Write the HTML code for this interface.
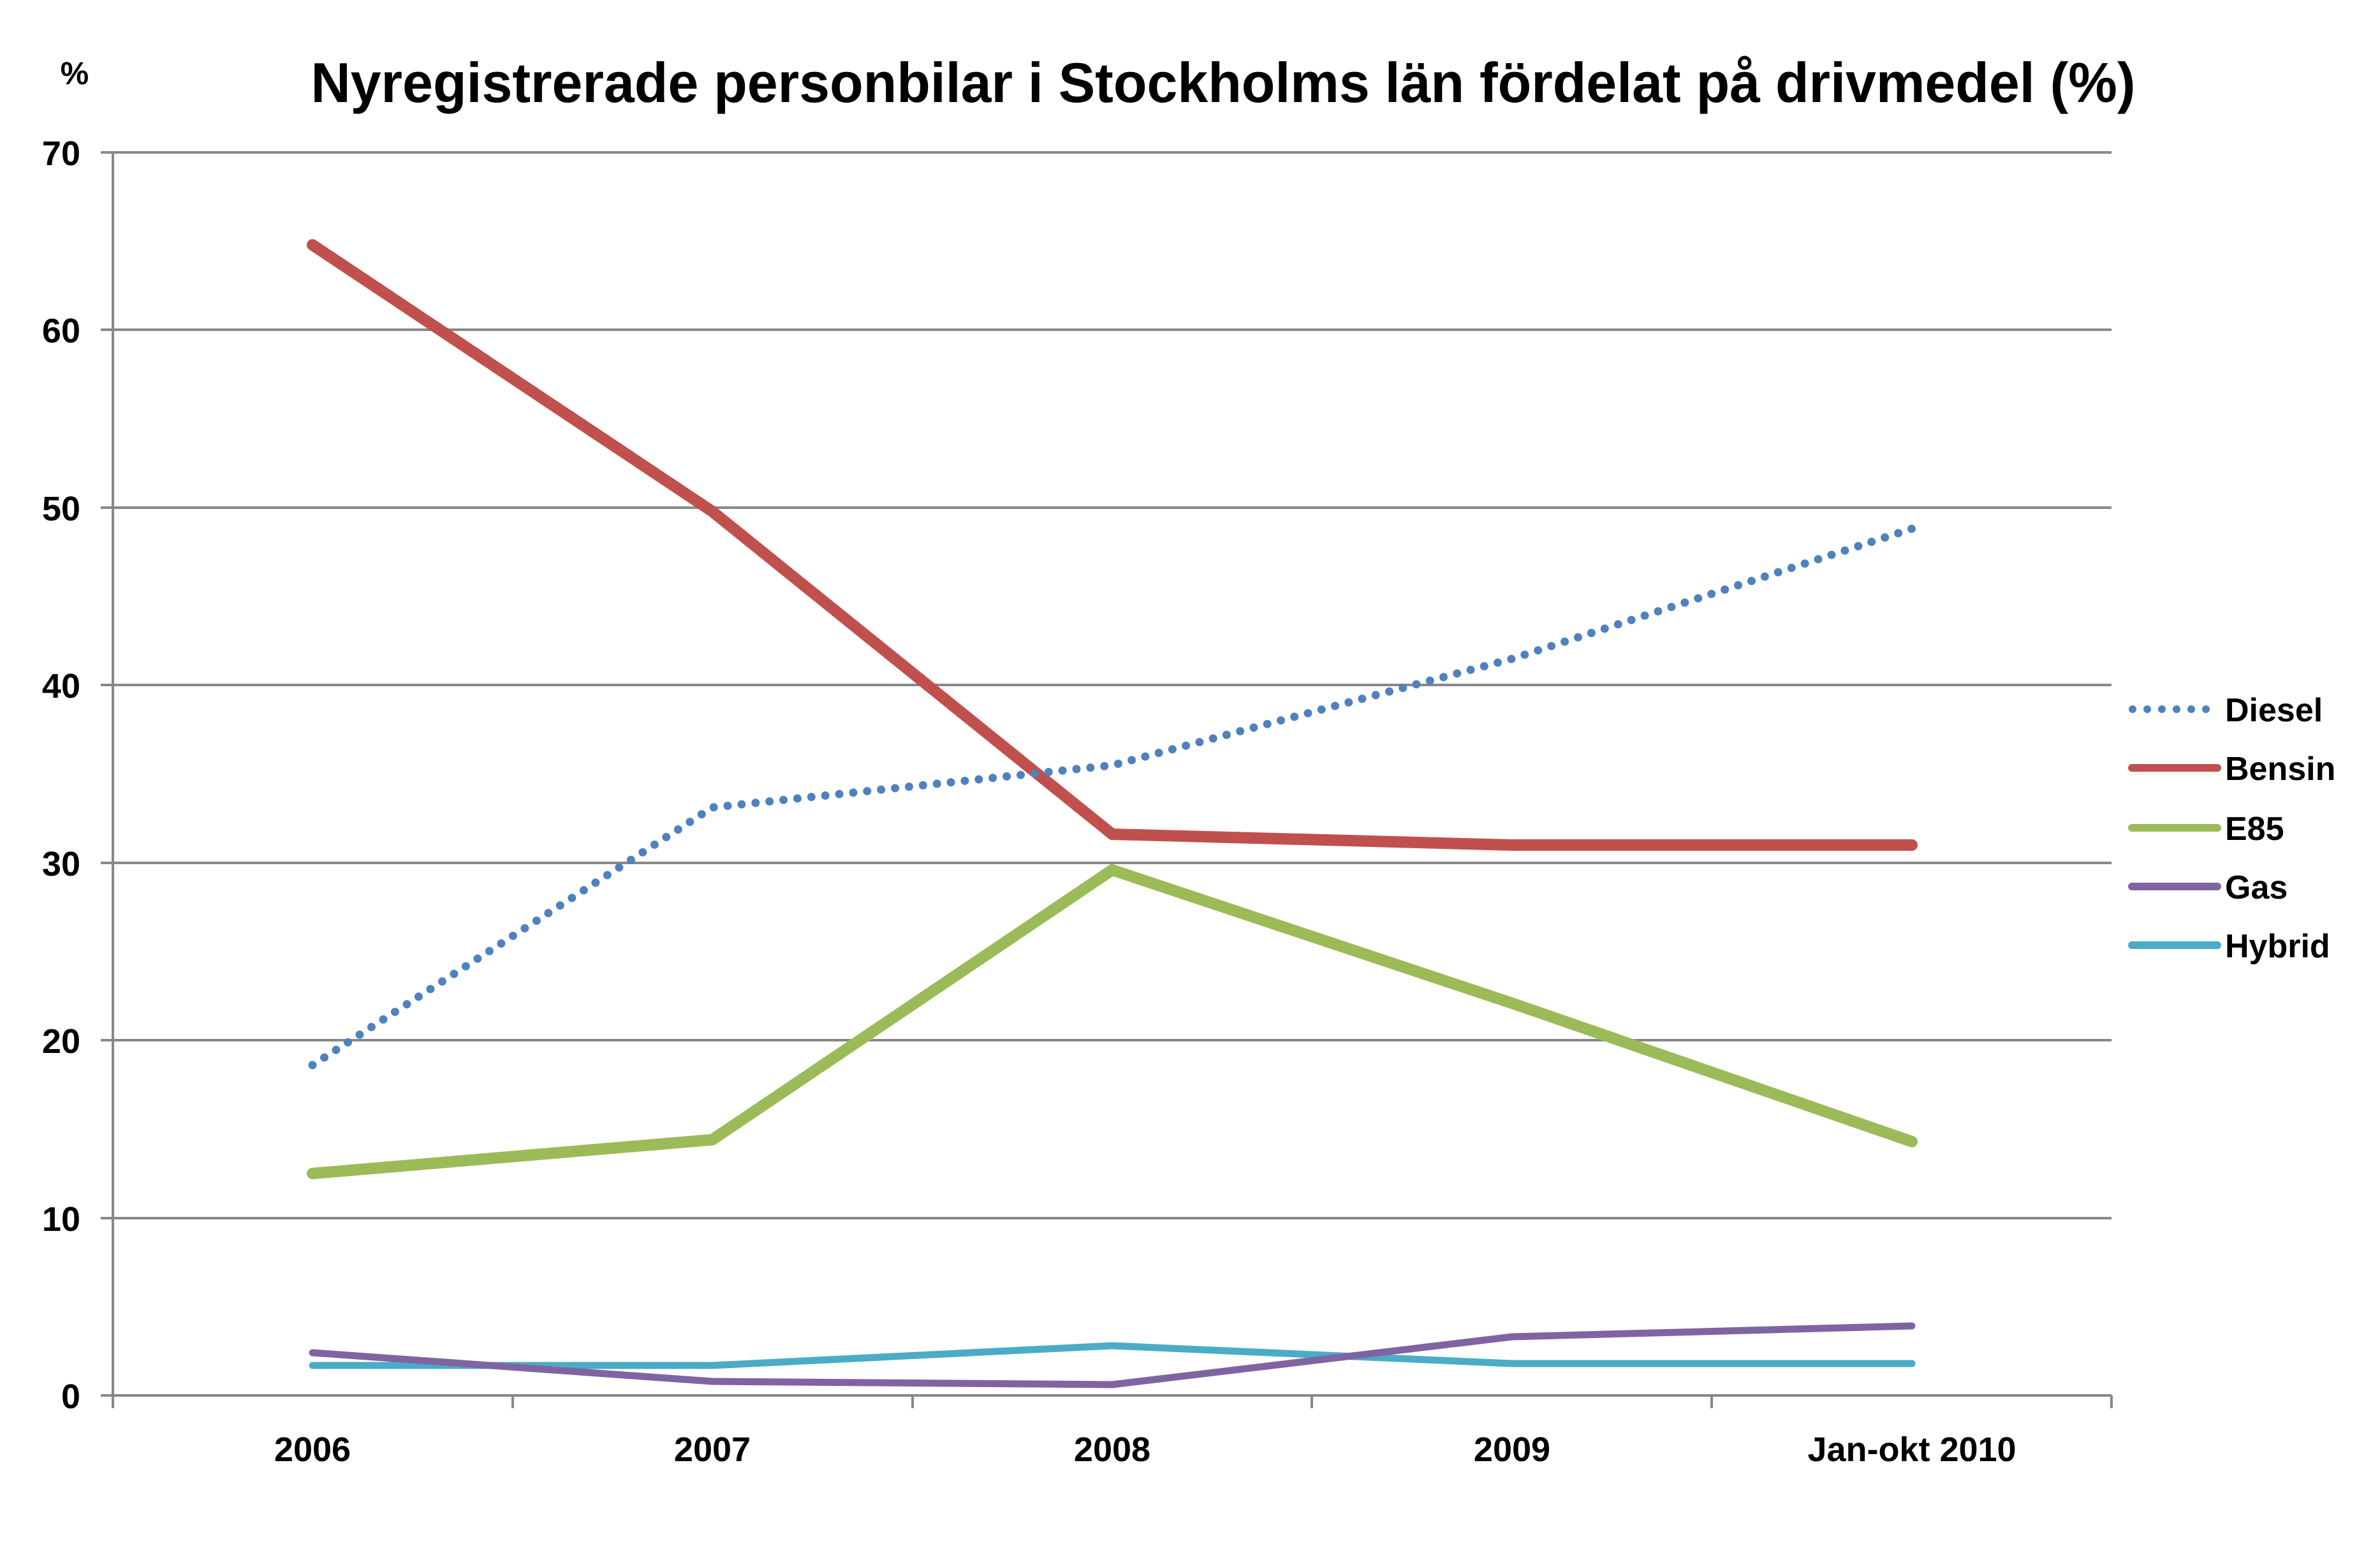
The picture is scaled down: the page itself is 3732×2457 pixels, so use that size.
<!DOCTYPE html>
<html><head><meta charset="utf-8"><style>html,body{margin:0;padding:0;background:#fff}svg{display:block}</style></head>
<body>
<svg width="3732" height="2457" viewBox="0 0 3732 2457" xmlns="http://www.w3.org/2000/svg" font-family="Liberation Sans, Arial, sans-serif" font-weight="bold">
<rect width="3732" height="2457" fill="#fff"/>
<text x="1918" y="160" font-size="88" text-anchor="middle" textLength="2861" lengthAdjust="spacingAndGlyphs">Nyregistrerade personbilar i Stockholms län fördelat på drivmedel (%)</text>
<text x="117" y="132" font-size="50" text-anchor="middle">%</text>
<g stroke="#888" stroke-width="4">
<line x1="158" y1="239" x2="3311" y2="239"/>
<line x1="158" y1="517" x2="3311" y2="517"/>
<line x1="158" y1="796" x2="3311" y2="796"/>
<line x1="158" y1="1074" x2="3311" y2="1074"/>
<line x1="158" y1="1353" x2="3311" y2="1353"/>
<line x1="158" y1="1631" x2="3311" y2="1631"/>
<line x1="158" y1="1910" x2="3311" y2="1910"/>
<line x1="158" y1="2188" x2="3311" y2="2188"/>
<line x1="177" y1="239" x2="177" y2="2208"/>
<line x1="804" y1="2188" x2="804" y2="2208"/>
<line x1="1431" y1="2188" x2="1431" y2="2208"/>
<line x1="2057" y1="2188" x2="2057" y2="2208"/>
<line x1="2684" y1="2188" x2="2684" y2="2208"/>
<line x1="3311" y1="2188" x2="3311" y2="2208"/>
</g>
<g font-size="54" text-anchor="end">
<text x="126" y="259">70</text><text x="126" y="537">60</text><text x="126" y="816">50</text>
<text x="126" y="1094">40</text><text x="126" y="1373">30</text><text x="126" y="1651">20</text>
<text x="126" y="1930">10</text><text x="126" y="2208">0</text>
</g>
<g font-size="54" text-anchor="middle">
<text x="490" y="2291">2006</text><text x="1117" y="2291">2007</text><text x="1744" y="2291">2008</text>
<text x="2371" y="2291">2009</text><text x="2998" y="2291">Jan-okt 2010</text>
</g>
<g fill="none" stroke-linecap="round" stroke-linejoin="round">
<polyline stroke="#4bacc6" stroke-width="11" points="490,2141 1117,2141 1744,2110 2371,2138 2998,2138"/>
<polyline stroke="#8064a2" stroke-width="11" points="490,2121 1117,2166 1744,2171 2371,2096 2998,2079"/>
<polyline stroke="#9bbb59" stroke-width="18" points="490,1840 1117,1787 1744,1364 2371,1573 2998,1790"/>
<polyline stroke="#c0504d" stroke-width="18" points="490,384 1117,802 1744,1308 2371,1325 2998,1325"/>
<polyline stroke="#4f81bd" stroke-width="13" stroke-dasharray="0 22" points="490,1670 1117,1266 1744,1200 2371,1033 2998,829"/>
<line x1="3344" y1="1112" x2="3476" y2="1112" stroke="#4f81bd" stroke-width="12" stroke-dasharray="0 23"/>
<line x1="3343" y1="1204" x2="3477" y2="1204" stroke="#c0504d" stroke-width="12"/>
<line x1="3343" y1="1298" x2="3477" y2="1298" stroke="#9bbb59" stroke-width="12"/>
<line x1="3343" y1="1390" x2="3477" y2="1390" stroke="#8064a2" stroke-width="12"/>
<line x1="3343" y1="1482" x2="3477" y2="1482" stroke="#4bacc6" stroke-width="12"/>
</g>
<g font-size="52">
<text x="3489" y="1131">Diesel</text><text x="3489" y="1223">Bensin</text><text x="3489" y="1317">E85</text>
<text x="3489" y="1409">Gas</text><text x="3489" y="1501">Hybrid</text>
</g>
</svg>
</body></html>
